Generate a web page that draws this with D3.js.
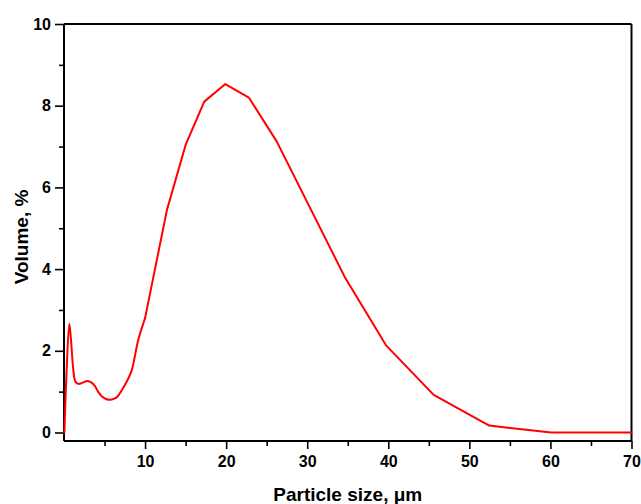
<!DOCTYPE html>
<html>
<head>
<meta charset="utf-8">
<script src="https://cdn.jsdelivr.net/npm/d3@7"></script>
<style>
  body { margin: 0; background: #fff; }
  text { font-family: "Liberation Sans", Arial, sans-serif; font-weight: bold; fill: #000; }
</style>
</head>
<body>
<svg id="chart"></svg>
<script>
// particle size (um) and volume (%)
const sizes = [0.05, 0.3, 0.65, 0.85, 1.15, 1.4, 1.76, 2.3, 2.9, 3.4, 3.8, 4.2, 4.65, 5.2, 5.67, 6.2, 6.6,
  7.5, 8.3, 9.15, 10.0, 12.7, 15.0, 17.3, 19.9, 22.8, 26.25, 34.7, 39.7, 45.6, 52.45, 60.1, 70.0];
const volumes = [0.0, 1.4, 2.66, 2.3, 1.53, 1.25, 1.19, 1.22, 1.26, 1.22, 1.14, 1.0, 0.89, 0.82, 0.80, 0.83, 0.88,
  1.16, 1.49, 2.26, 2.8, 5.45, 7.04, 8.10, 8.53, 8.20, 7.12, 3.78, 2.14, 0.92, 0.17, 0.0, 0.0];
const xMajor = [10, 20, 30, 40, 50, 60, 70];
const xMinor = [5, 15, 25, 35, 45, 55, 65];
const yMajor = [0, 2, 4, 6, 8, 10];
const yMinor = [1, 3, 5, 7, 9];

const width = 641, height = 504;
const plot = { left: 64, right: 631.5, top: 24, bottom: 441 };

const svg = d3.select('#chart')
  .attr('width', width)
  .attr('height', height);

const x = d3.scaleLinear().domain([0, 70]).range([plot.left, plot.right]);
const y = d3.scaleLinear().domain([0, 10]).range([432.5, plot.top]);

// x axis
const xAxisG = svg.append('g').attr('transform', `translate(0,${plot.bottom})`);
xAxisG.call(d3.axisBottom(x).tickValues(xMajor).tickSize(8).tickSizeOuter(0).tickPadding(7));
xAxisG.append('g').call(d3.axisBottom(x).tickValues(xMinor).tickSize(5).tickFormat(''));

// y axis
const yAxisG = svg.append('g').attr('transform', `translate(${plot.left},0)`);
yAxisG.call(d3.axisLeft(y).tickValues(yMajor).tickSize(9).tickSizeOuter(0).tickPadding(4));
yAxisG.append('g').call(d3.axisLeft(y).tickValues(yMinor).tickSize(5).tickFormat(''));

svg.selectAll('.domain').remove();
svg.selectAll('.tick line').attr('stroke', '#000').attr('stroke-width', 1.6);
svg.selectAll('.tick text')
  .style('font-size', '16px')
  .style('font-weight', 'bold')
  .style('font-family', '"Liberation Sans", Arial, sans-serif');

// frame
const frame = svg.append('g').attr('stroke', '#000').attr('stroke-width', 2).attr('fill', 'none');
frame.append('line').attr('x1', plot.left).attr('x2', plot.left).attr('y1', plot.top).attr('y2', plot.bottom);
frame.append('line').attr('x1', plot.right).attr('x2', plot.right).attr('y1', plot.top).attr('y2', plot.bottom);
frame.append('line').attr('x1', plot.left).attr('x2', plot.right).attr('y1', plot.top).attr('y2', plot.top);
frame.append('line').attr('x1', plot.left).attr('x2', plot.right).attr('y1', plot.bottom).attr('y2', plot.bottom);

// data line: smooth in the fine-size region, straight segments above 10 um
const data = sizes.map((s, i) => ({ size: s, vol: volumes[i] }));
const fine = data.filter(d => d.size <= 10);
const coarse = data.filter(d => d.size >= 10);

const smoothLine = d3.line()
  .curve(d3.curveCatmullRom.alpha(0.5))
  .x(d => x(d.size))
  .y(d => y(d.vol));
const straightLine = d3.line()
  .x(d => x(d.size))
  .y(d => y(d.vol));

[[fine, smoothLine], [coarse, straightLine]].forEach(([pts, gen]) => {
  svg.append('path')
    .datum(pts)
    .attr('d', gen)
    .attr('fill', 'none')
    .attr('stroke', '#ff0000')
    .attr('stroke-width', 2)
    .attr('stroke-linejoin', 'round')
    .attr('stroke-linecap', 'round');
});

// axis titles
svg.append('text')
  .attr('x', (plot.left + plot.right) / 2)
  .attr('y', 501)
  .attr('text-anchor', 'middle')
  .style('font-size', '19px')
  .text('Particle size, \u03bcm');

svg.append('text')
  .attr('transform', 'translate(28,237) rotate(-90)')
  .attr('text-anchor', 'middle')
  .style('font-size', '19px')
  .text('Volume, %');
</script>
</body>
</html>
